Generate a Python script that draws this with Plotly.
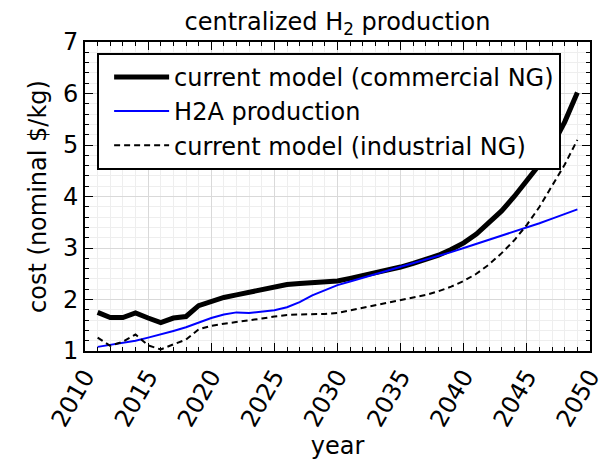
import plotly.graph_objects as go

years = list(range(2011, 2050))

commercial_ng = [1.75, 1.65, 1.65, 1.74, 1.64, 1.55, 1.64, 1.67, 1.88, 1.97,
                 2.04, 2.09, 2.14, 2.19, 2.24, 2.29, 2.31, 2.33, 2.34, 2.36,
                 2.41, 2.46, 2.51, 2.57, 2.63, 2.70, 2.77, 2.86, 2.97, 3.10,
                 3.27, 3.48, 3.72, 4.00, 4.30, 4.62, 4.98, 5.45, 6.02]

h2a_production = [1.08, 1.12, 1.15, 1.20, 1.26, 1.32, 1.39, 1.46, 1.55, 1.64,
                  1.71, 1.75, 1.74, 1.76, 1.79, 1.85, 1.95, 2.08, 2.18, 2.28,
                  2.35, 2.42, 2.49, 2.56, 2.63, 2.70, 2.77, 2.84, 2.92, 3.00,
                  3.08, 3.16, 3.23, 3.31, 3.39, 3.48, 3.57, 3.66, 3.75]

industrial_ng = [1.26, 1.10, 1.18, 1.32, 1.11, 1.03, 1.13, 1.22, 1.42, 1.49,
                 1.53, 1.56, 1.60, 1.63, 1.67, 1.70, 1.71, 1.71, 1.72, 1.74,
                 1.79, 1.84, 1.89, 1.94, 1.98, 2.03, 2.09, 2.16, 2.25, 2.36,
                 2.50, 2.68, 2.90, 3.15, 3.45, 3.80, 4.20, 4.62, 5.10]

x_ticks = [2010, 2015, 2020, 2025, 2030, 2035, 2040, 2045, 2050]
y_ticks = [1, 2, 3, 4, 5, 6, 7]

FONT = "DejaVu Sans"

fig = go.Figure()
fig.add_trace(go.Scatter(x=years, y=commercial_ng, mode="lines",
                         name="current model (commercial NG)", legendgroup="a",
                         line=dict(color="black", width=5)))
fig.add_trace(go.Scatter(x=years, y=h2a_production, mode="lines",
                         name="H2A production", legendgroup="b",
                         line=dict(color="#0000ff", width=2)))
fig.add_trace(go.Scatter(x=years, y=industrial_ng, mode="lines",
                         name="current model (industrial NG)", legendgroup="c",
                         line=dict(color="black", width=2, dash="6px,4px")))

axis_common = dict(
    showline=True, linecolor="black", linewidth=2, mirror="allticks",
    ticks="inside", ticklen=8, tickwidth=1.2, tickcolor="black",
    showgrid=True, gridcolor="#d9d9d9", gridwidth=1, zeroline=False,
    automargin=False,
    tickfont=dict(family=FONT, size=24, color="black"),
)

fig.update_xaxes(
    range=[2010, 2050], tickvals=x_ticks, tickangle=-60,
    title=dict(text="year", font=dict(family=FONT, size=24, color="black"), standoff=8),
    minor=dict(dtick=1, tick0=2010, ticks="inside", ticklen=4, tickcolor="black",
               showgrid=True, gridcolor="#eeeeee", gridwidth=1),
    **axis_common,
)
fig.update_yaxes(
    range=[1, 7], tickvals=y_ticks,
    title=dict(text="cost (nominal $/kg)", font=dict(family=FONT, size=24, color="black"), standoff=10),
    minor=dict(dtick=0.2, tick0=1, ticks="inside", ticklen=4, tickcolor="black",
               showgrid=True, gridcolor="#eeeeee", gridwidth=1),
    **axis_common,
)

fig.update_layout(
    width=603, height=452,
    margin=dict(l=77, r=21, t=34, b=109),
    paper_bgcolor="white", plot_bgcolor="white",
    font=dict(family=FONT, size=24, color="black"),
    title=dict(text="centralized H<sub>2</sub> production", x=0.5, xref="paper",
               y=0.969, yanchor="middle", font=dict(family=FONT, size=24, color="black")),
    legend=dict(x=0.024, y=0.965, xanchor="left", yanchor="top",
                bgcolor="white", bordercolor="black", borderwidth=2,
                font=dict(family=FONT, size=24, color="black"),
                tracegroupgap=7, traceorder="normal", indentation=10, itemwidth=55),
    showlegend=True,
)

fig.write_html("out.html")
